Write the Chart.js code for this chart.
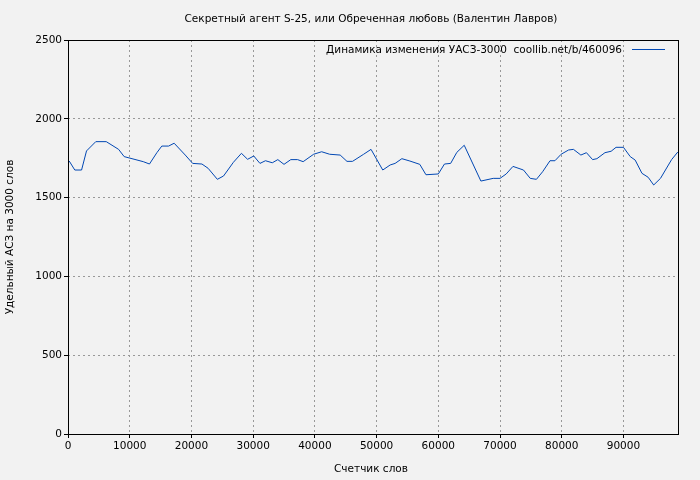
<!DOCTYPE html>
<html>
<head>
<meta charset="utf-8">
<script src="https://cdn.jsdelivr.net/npm/chart.js@4"></script>
<style>
  body { margin: 0; background: #f2f2f2; }
  #wrap { width: 700px; height: 480px; }
</style>
</head>
<body>
<div id="wrap"><canvas id="c"></canvas></div>
<script>
const chartTitle = 'Секретный агент S-25, или Обреченная любовь (Валентин Лавров)';
const legendLabel = 'Динамика изменения УАСЗ-3000  coollib.net/b/460096';
const xTitle = 'Счетчик слов';
const yTitle = 'Удельный АСЗ на 3000 слов';

// word counter positions and values
const words = [200, 1100, 2200, 3000, 4500, 6200, 8200, 9100, 12200, 13200, 14400, 15200, 16300, 17200,
  19000, 20200, 21700, 22700, 24200, 25200, 26800, 28100, 29100, 30100, 31100, 32000, 33100, 34000,
  35000, 36100, 37200, 38100, 39800, 41100, 42400, 44100, 45200, 46100, 47900, 49100, 51000, 52200,
  53000, 54100, 55400, 57000, 58000, 60000, 61000, 62000, 63000, 64200, 66900, 68900, 70000, 71000,
  72100, 73800, 74900, 75900, 76900, 78100, 78900, 79900, 81100, 81900, 83100, 84000, 85000, 85700,
  87000, 88000, 88800, 90000, 91100, 91900, 93000, 94000, 94900, 96000, 97800, 98800];
const values = [1732, 1675, 1675, 1796, 1855, 1855, 1806, 1760, 1728, 1713, 1785, 1827, 1827, 1845,
  1770, 1717, 1713, 1686, 1616, 1637, 1724, 1781, 1743, 1764, 1717, 1734, 1721, 1741,
  1711, 1741, 1741, 1728, 1775, 1791, 1775, 1770, 1730, 1730, 1775, 1806, 1675, 1707,
  1717, 1747, 1732, 1711, 1645, 1650, 1713, 1717, 1787, 1832, 1605, 1622, 1622, 1650,
  1698, 1675, 1622, 1616, 1664, 1734, 1734, 1775, 1802, 1806, 1770, 1785, 1741, 1747,
  1785, 1794, 1819, 1819, 1760, 1738, 1654, 1629, 1580, 1622, 1741, 1789];
const xTicks = [0, 10000, 20000, 30000, 40000, 50000, 60000, 70000, 80000, 90000];
const yTicks = [0, 500, 1000, 1500, 2000, 2500];

const font = { family: 'DejaVu Sans', size: 10.5 };

const overlay = {
  id: 'overlay',
  afterDraw(chart) {
    const ctx = chart.ctx, a = chart.chartArea;
    ctx.save();
    ctx.strokeStyle = '#000';
    ctx.lineWidth = 1;
    ctx.strokeRect(Math.round(a.left) + 0.5, Math.round(a.top) + 0.5,
      Math.round(a.right - a.left) - 1, Math.round(a.bottom - a.top));
    ctx.fillStyle = '#000';
    ctx.font = '10.5px "DejaVu Sans"';
    ctx.textAlign = 'center';
    ctx.textBaseline = 'middle';
    ctx.fillText(chartTitle, 371, 19);
    ctx.fillText(xTitle, 371, 469);
    ctx.save();
    ctx.translate(10, 237);
    ctx.rotate(-Math.PI / 2);
    ctx.fillText(yTitle, 0, 0);
    ctx.restore();
    ctx.textAlign = 'right';
    ctx.fillText(legendLabel, 622, 50);
    ctx.strokeStyle = '#0047b3';
    ctx.beginPath();
    ctx.moveTo(632, 49.5);
    ctx.lineTo(665, 49.5);
    ctx.stroke();
    ctx.restore();
  }
};

new Chart(document.getElementById('c'), {
  type: 'line',
  data: {
    datasets: [{
      data: words.map((w, i) => ({ x: w, y: values[i] })),
      borderColor: '#0047b3',
      borderWidth: 1,
      pointRadius: 0,
      tension: 0
    }]
  },
  options: {
    responsive: true,
    maintainAspectRatio: false,
    animation: false,
    layout: { padding: { top: 40, right: 21, left: 0, bottom: 0 } },
    plugins: { legend: { display: false }, tooltip: { enabled: false } },
    scales: {
      x: {
        type: 'linear', min: 0, max: 99000,
        afterBuildTicks: s => { s.ticks = xTicks.map(v => ({ value: v })); },
        afterFit: s => { s.height = 46; },
        grid: { color: '#999', tickBorderDash: [], tickColor: '#000', tickLength: 4 },
        border: { display: false, dash: [2, 3] },
        ticks: { color: '#000', font, maxRotation: 0, padding: 2, callback: v => String(v) }
      },
      y: {
        min: 0, max: 2500,
        afterBuildTicks: s => { s.ticks = yTicks.map(v => ({ value: v })); },
        afterFit: s => { s.width = 68; },
        grid: { color: '#999', tickBorderDash: [], tickColor: '#000', tickLength: 4 },
        border: { display: false, dash: [2, 3] },
        ticks: { color: '#000', font, padding: 2, callback: v => String(v) }
      }
    }
  },
  plugins: [overlay]
});
</script>
</body>
</html>
